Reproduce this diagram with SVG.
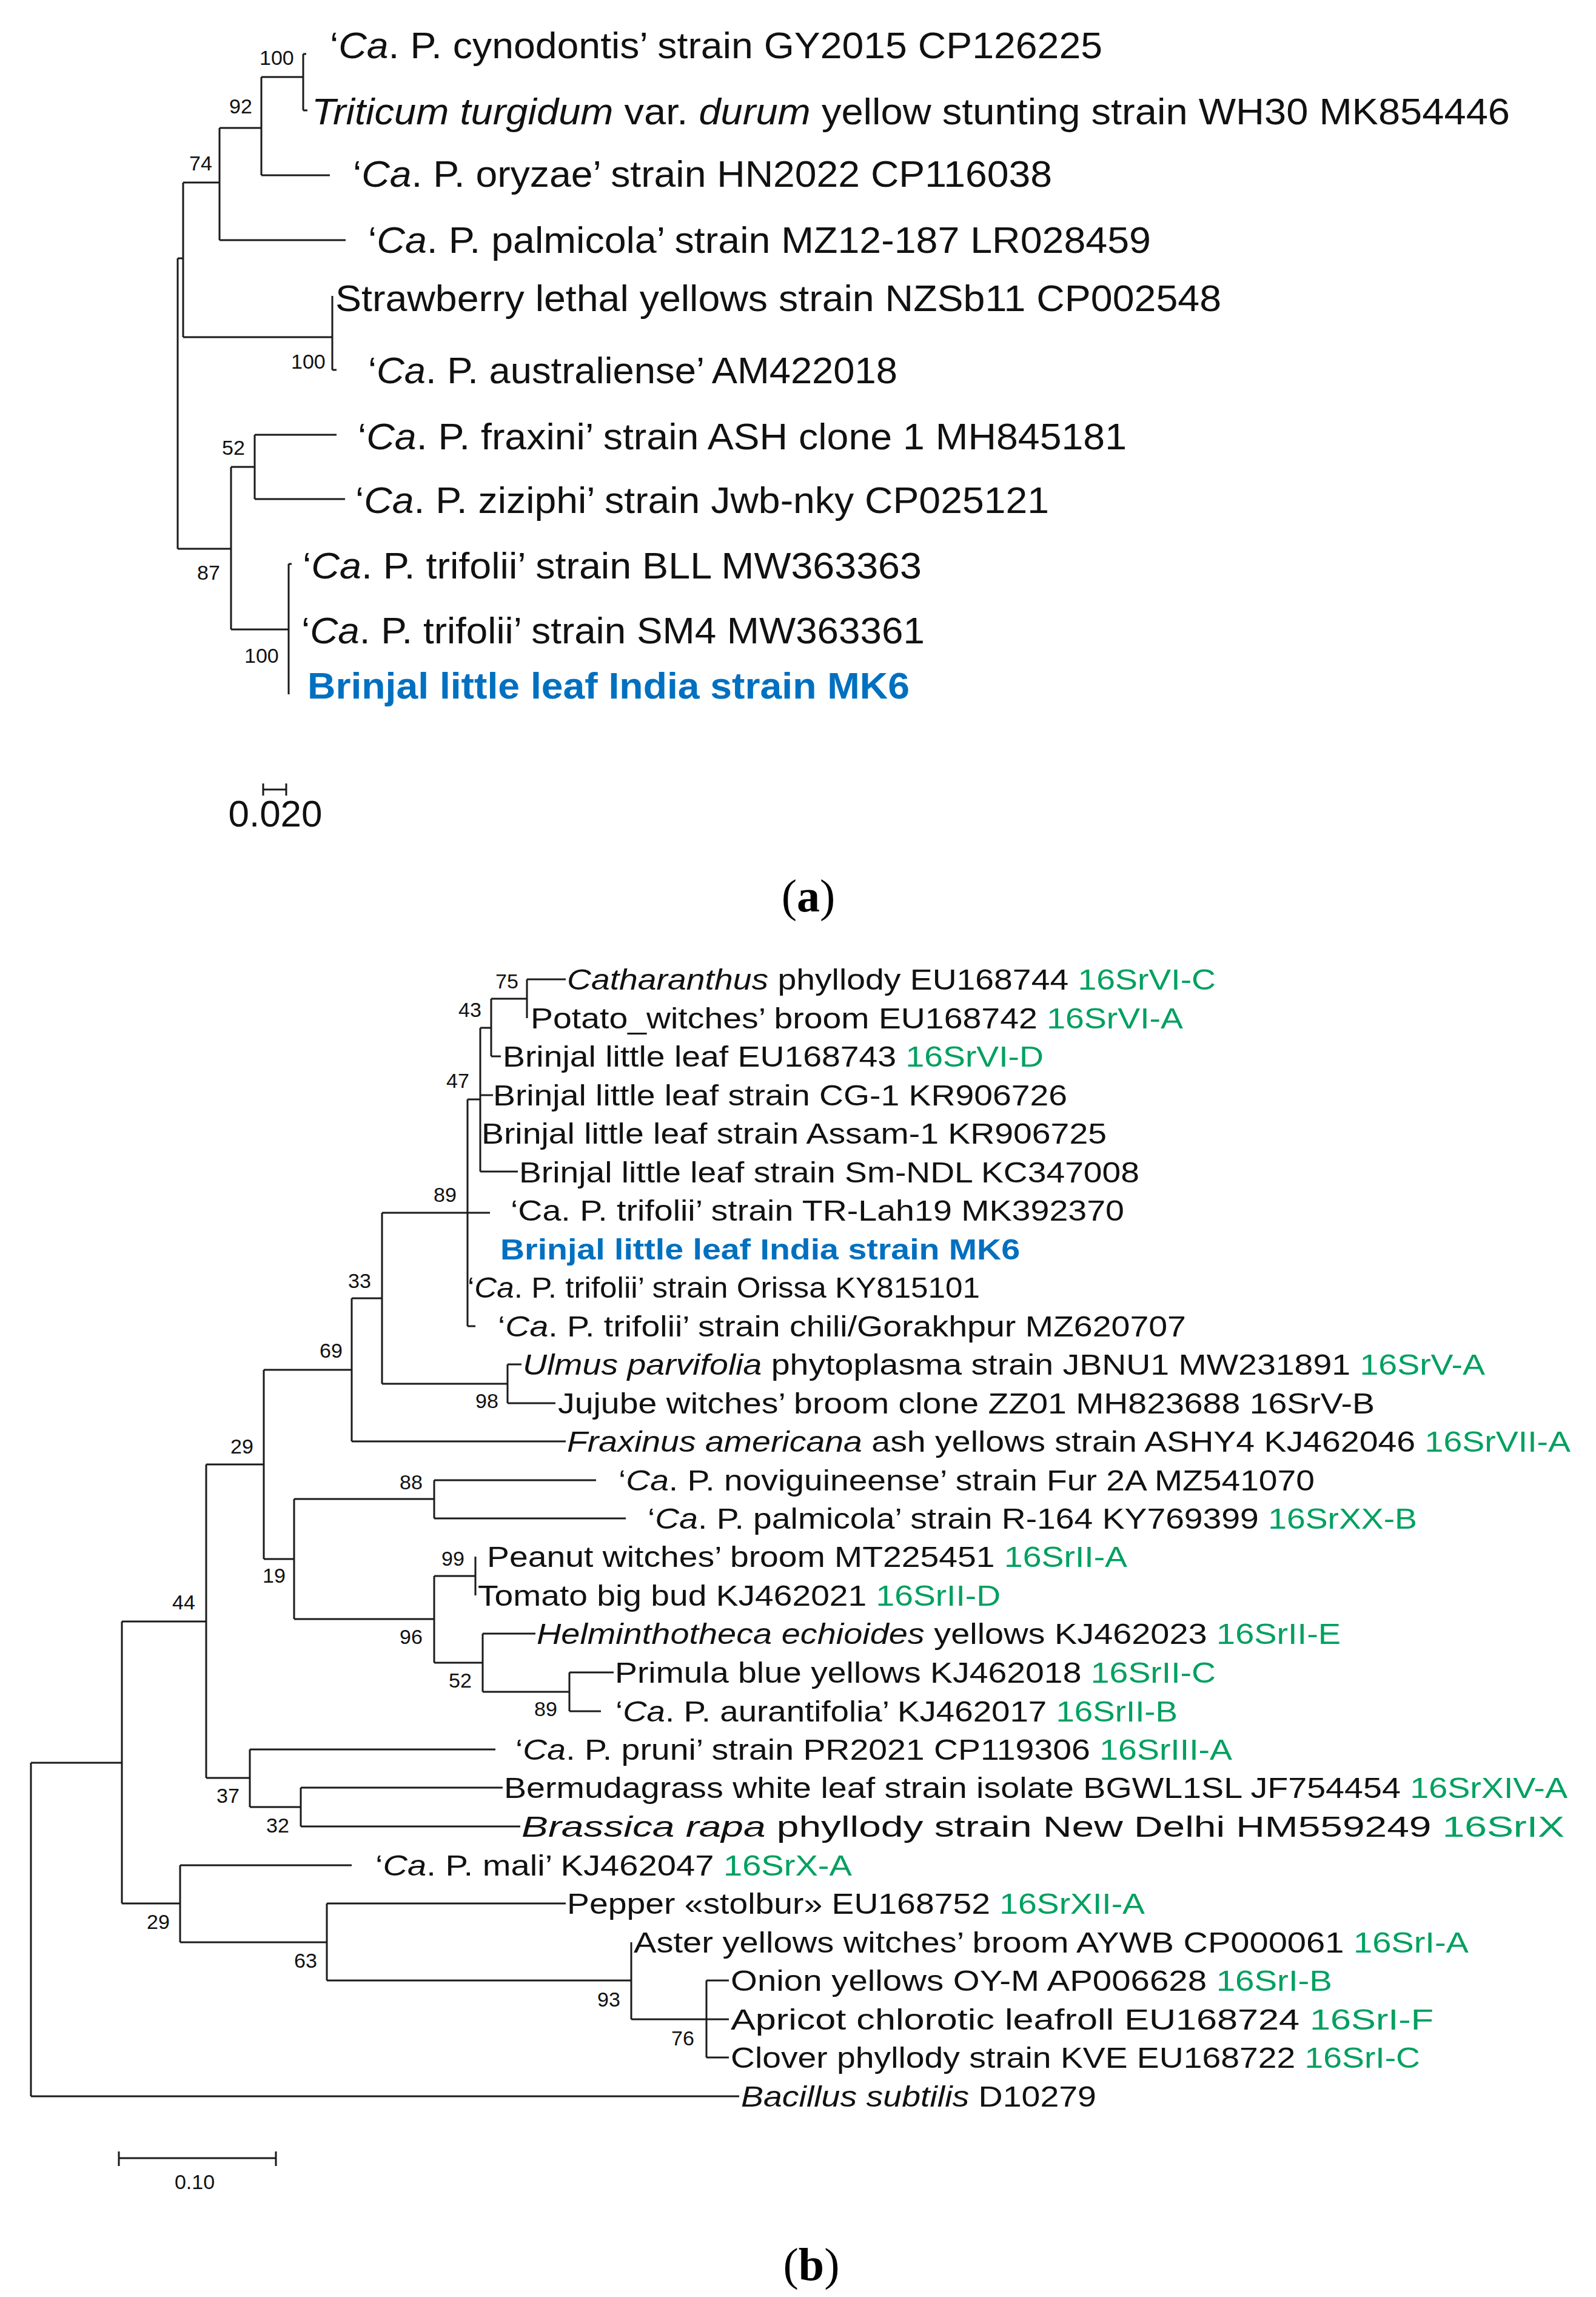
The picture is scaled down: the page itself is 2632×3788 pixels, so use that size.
<svg xmlns="http://www.w3.org/2000/svg" width="2632" height="3788" viewBox="0 0 2632 3788">
<style>
.br{fill:none;stroke:#1a1a1a;stroke-width:3}
.la{font-family:"Liberation Sans",Arial,sans-serif;font-size:62px;fill:#111}
.lb{font-family:"Liberation Sans",Arial,sans-serif;font-size:48px;fill:#111}
.bs{font-family:"Liberation Sans",Arial,sans-serif;font-size:34px;fill:#111}
.i{font-style:italic}
.g{fill:#00a060}
.mk{fill:#0070c0;font-weight:bold}
.cap{font-family:"Liberation Serif","Times New Roman",serif;font-size:76px;fill:#000}
</style>
<rect width="2632" height="3788" fill="#fff"/>
<g id="connectors">
<path class="br" d="M500 89V182M500 89H505M500 182H507M431 127V289M431 127H500M431 289H544M362 211V396M362 211H431M362 396H570M302 301V556M302 301H362M302 556H548M548 488V610M548 610H555M293 426V905M293 426H302M293 905H381M381 770V1038M381 770H420M381 1038H476M420 717V823M420 717H555M420 823H569M476 930V1145M476 930H481"/>
<path class="br" d="M434 1302H472M434 1292V1312M472 1292V1312"/>
<path class="br" d="M869 1615V1679M869 1615H933M810 1647V1742M810 1647H869M810 1742H826M792 1695V1932M792 1695H810M792 1806H813M792 1932H854M771 1813V2187M771 1813H792M771 2000H808M771 2187H784M837 2250V2314M837 2250H860M837 2314H916M630 2000V2282M630 2000H771M630 2282H837M580 2141V2377M580 2141H630M580 2377H933M716 2441V2504M716 2441H983M716 2504H1032M784 2567V2631M784 2599H716M939 2758V2822M939 2758H1012M939 2822H991M796 2694V2790M796 2694H883M796 2790H939M716 2599V2742M716 2742H796M485 2472V2670M485 2472H716M485 2670H716M435 2259V2571M435 2259H580M435 2571H485M496 2948V3012M496 2948H829M496 3012H858M412 2885V2980M412 2885H817M412 2980H496M340 2415V2932M340 2415H435M340 2932H412M1165 3266V3393M1165 3266H1202M1165 3330H1202M1165 3393H1202M1041 3203V3330M1041 3330H1165M539 3139V3266M539 3139H933M539 3266H1041M297 3076V3203M297 3076H580M297 3203H539M201 2674V3139M201 2674H340M201 3139H297M51 2907V3457M51 2907H201M51 3457H1219"/>
<path class="br" d="M196 3559H455M196 3548V3572M455 3548V3572"/>
</g>
<g id="panel-a">
<g id="a1"><text class="la" x="544" y="96" textLength="1274" lengthAdjust="spacingAndGlyphs">‘<tspan class="i">Ca</tspan>. P. cynodontis’ strain GY2015 CP126225</text></g>
<g id="a2"><text class="la" x="514" y="205" textLength="1976" lengthAdjust="spacingAndGlyphs"><tspan class="i">Triticum turgidum</tspan> var. <tspan class="i">durum</tspan> yellow stunting  strain WH30 MK854446</text></g>
<g id="a3"><text class="la" x="582" y="308" textLength="1153" lengthAdjust="spacingAndGlyphs">‘<tspan class="i">Ca</tspan>. P. oryzae’ strain HN2022 CP116038</text></g>
<g id="a4"><text class="la" x="607" y="417" textLength="1291" lengthAdjust="spacingAndGlyphs">‘<tspan class="i">Ca</tspan>. P. palmicola’ strain MZ12-187 LR028459</text></g>
<g id="a5"><text class="la" x="553" y="513" textLength="1461" lengthAdjust="spacingAndGlyphs">Strawberry lethal yellows strain NZSb11 CP002548</text></g>
<g id="a6"><text class="la" x="607" y="632" textLength="873" lengthAdjust="spacingAndGlyphs">‘<tspan class="i">Ca</tspan>. P. australiense’ AM422018</text></g>
<g id="a7"><text class="la" x="590" y="741" textLength="1268" lengthAdjust="spacingAndGlyphs">‘<tspan class="i">Ca</tspan>. P. fraxini’ strain ASH clone 1 MH845181</text></g>
<g id="a8"><text class="la" x="586" y="846" textLength="1144" lengthAdjust="spacingAndGlyphs">‘<tspan class="i">Ca</tspan>. P. ziziphi’ strain Jwb-nky CP025121</text></g>
<g id="a9"><text class="la" x="499" y="954" textLength="1021" lengthAdjust="spacingAndGlyphs">‘<tspan class="i">Ca</tspan>. P. trifolii’ strain BLL MW363363</text></g>
<g id="a10"><text class="la" x="497" y="1061" textLength="1028" lengthAdjust="spacingAndGlyphs">‘<tspan class="i">Ca</tspan>. P. trifolii’ strain SM4 MW363361</text></g>
<g id="a11"><text class="la mk" x="507" y="1152" textLength="993" lengthAdjust="spacingAndGlyphs">Brinjal little leaf India strain MK6</text></g>
<text class="bs" x="428" y="107">100</text>
<text class="bs" x="378" y="187">92</text>
<text class="bs" x="312" y="281">74</text>
<text class="bs" x="480" y="608">100</text>
<text class="bs" x="366" y="750">52</text>
<text class="bs" x="325" y="956">87</text>
<text class="bs" x="403" y="1093">100</text>
<text class="la" x="454" y="1363" text-anchor="middle" font-size="50">0.020</text>
<text class="cap" x="1333" y="1503" text-anchor="middle">(<tspan font-weight="bold">a</tspan>)</text>
</g>
<g id="panel-b">
<g id="b0"><text class="lb" x="935" y="1632" textLength="1070" lengthAdjust="spacingAndGlyphs"><tspan class="i">Catharanthus</tspan> phyllody EU168744 <tspan class="g">16SrVI-C</tspan></text></g>
<g id="b1"><text class="lb" x="875" y="1696" textLength="1076" lengthAdjust="spacingAndGlyphs">Potato_witches’ broom EU168742 <tspan class="g">16SrVI-A</tspan></text></g>
<g id="b2"><text class="lb" x="829" y="1759" textLength="892" lengthAdjust="spacingAndGlyphs">Brinjal little leaf EU168743 <tspan class="g">16SrVI-D</tspan></text></g>
<g id="b3"><text class="lb" x="813" y="1823" textLength="947" lengthAdjust="spacingAndGlyphs">Brinjal little leaf strain CG-1 KR906726</text></g>
<g id="b4"><text class="lb" x="794" y="1886" textLength="1031" lengthAdjust="spacingAndGlyphs">Brinjal little leaf strain Assam-1 KR906725</text></g>
<g id="b5"><text class="lb" x="856" y="1950" textLength="1023" lengthAdjust="spacingAndGlyphs">Brinjal little leaf strain Sm-NDL KC347008</text></g>
<g id="b6"><text class="lb" x="842" y="2013" textLength="1012" lengthAdjust="spacingAndGlyphs">‘Ca. P. trifolii’ strain TR-Lah19 MK392370</text></g>
<g id="b7"><text class="lb mk" x="825" y="2077" textLength="857" lengthAdjust="spacingAndGlyphs">Brinjal little leaf India strain MK6</text></g>
<g id="b8"><text class="lb" x="771" y="2140" textLength="845" lengthAdjust="spacingAndGlyphs">‘<tspan class="i">Ca</tspan>. P. trifolii’ strain Orissa KY815101</text></g>
<g id="b9"><text class="lb" x="821" y="2204" textLength="1135" lengthAdjust="spacingAndGlyphs">‘<tspan class="i">Ca</tspan>. P. trifolii’ strain chili/Gorakhpur MZ620707</text></g>
<g id="b10"><text class="lb" x="862" y="2267" textLength="1587" lengthAdjust="spacingAndGlyphs"><tspan class="i">Ulmus parvifolia</tspan> phytoplasma strain JBNU1 MW231891 <tspan class="g">16SrV-A</tspan></text></g>
<g id="b11"><text class="lb" x="920" y="2331" textLength="1347" lengthAdjust="spacingAndGlyphs">Jujube witches’ broom clone ZZ01 MH823688 16SrV-B</text></g>
<g id="b12"><text class="lb" x="935" y="2394" textLength="1655" lengthAdjust="spacingAndGlyphs"><tspan class="i">Fraxinus americana</tspan> ash yellows strain ASHY4 KJ462046 <tspan class="g">16SrVII-A</tspan></text></g>
<g id="b13"><text class="lb" x="1020" y="2458" textLength="1148" lengthAdjust="spacingAndGlyphs">‘<tspan class="i">Ca</tspan>. P. noviguineense’ strain Fur 2A MZ541070</text></g>
<g id="b14"><text class="lb" x="1068" y="2521" textLength="1269" lengthAdjust="spacingAndGlyphs">‘<tspan class="i">Ca</tspan>. P. palmicola’ strain R-164 KY769399 <tspan class="g">16SrXX-B</tspan></text></g>
<g id="b15"><text class="lb" x="803" y="2584" textLength="1056" lengthAdjust="spacingAndGlyphs">Peanut witches’ broom MT225451 <tspan class="g">16SrII-A</tspan></text></g>
<g id="b16"><text class="lb" x="788" y="2648" textLength="862" lengthAdjust="spacingAndGlyphs">Tomato big bud KJ462021 <tspan class="g">16SrII-D</tspan></text></g>
<g id="b17"><text class="lb" x="885" y="2711" textLength="1326" lengthAdjust="spacingAndGlyphs"><tspan class="i">Helminthotheca echioides</tspan> yellows  KJ462023 <tspan class="g">16SrII-E</tspan></text></g>
<g id="b18"><text class="lb" x="1014" y="2775" textLength="991" lengthAdjust="spacingAndGlyphs">Primula blue yellows KJ462018 <tspan class="g">16SrII-C</tspan></text></g>
<g id="b19"><text class="lb" x="1015" y="2839" textLength="927" lengthAdjust="spacingAndGlyphs">‘<tspan class="i">Ca</tspan>. P. aurantifolia’ KJ462017 <tspan class="g">16SrII-B</tspan></text></g>
<g id="b20"><text class="lb" x="850" y="2902" textLength="1182" lengthAdjust="spacingAndGlyphs">‘<tspan class="i">Ca</tspan>. P. pruni’ strain PR2021 CP119306 <tspan class="g">16SrIII-A</tspan></text></g>
<g id="b21"><text class="lb" x="831" y="2965" textLength="1754" lengthAdjust="spacingAndGlyphs">Bermudagrass white leaf strain isolate BGWL1SL JF754454 <tspan class="g">16SrXIV-A</tspan></text></g>
<g id="b22"><text class="lb" x="860" y="3029" textLength="1720" lengthAdjust="spacingAndGlyphs"><tspan class="i">Brassica rapa</tspan> phyllody strain New Delhi HM559249 <tspan class="g">16SrIX</tspan></text></g>
<g id="b23"><text class="lb" x="619" y="3093" textLength="786" lengthAdjust="spacingAndGlyphs">‘<tspan class="i">Ca</tspan>. P. mali’  KJ462047 <tspan class="g">16SrX-A</tspan></text></g>
<g id="b24"><text class="lb" x="935" y="3156" textLength="953" lengthAdjust="spacingAndGlyphs">Pepper «stolbur» EU168752 <tspan class="g">16SrXII-A</tspan></text></g>
<g id="b25"><text class="lb" x="1045" y="3220" textLength="1377" lengthAdjust="spacingAndGlyphs">Aster yellows witches’ broom  AYWB CP000061 <tspan class="g">16SrI-A</tspan></text></g>
<g id="b26"><text class="lb" x="1205" y="3283" textLength="992" lengthAdjust="spacingAndGlyphs">Onion yellows OY-M AP006628 <tspan class="g">16SrI-B</tspan></text></g>
<g id="b27"><text class="lb" x="1205" y="3347" textLength="1159" lengthAdjust="spacingAndGlyphs">Apricot chlorotic leafroll EU168724 <tspan class="g">16SrI-F</tspan></text></g>
<g id="b28"><text class="lb" x="1205" y="3410" textLength="1137" lengthAdjust="spacingAndGlyphs">Clover phyllody strain KVE EU168722 <tspan class="g">16SrI-C</tspan></text></g>
<g id="b29"><text class="lb" x="1222" y="3474" textLength="586" lengthAdjust="spacingAndGlyphs"><tspan class="i">Bacillus subtilis</tspan> D10279</text></g>
<text class="bs" x="817" y="1630">75</text>
<text class="bs" x="756" y="1677">43</text>
<text class="bs" x="736" y="1794">47</text>
<text class="bs" x="715" y="1982">89</text>
<text class="bs" x="574" y="2124">33</text>
<text class="bs" x="527" y="2239">69</text>
<text class="bs" x="784" y="2322">98</text>
<text class="bs" x="380" y="2397">29</text>
<text class="bs" x="659" y="2456">88</text>
<text class="bs" x="433" y="2610">19</text>
<text class="bs" x="284" y="2654">44</text>
<text class="bs" x="728" y="2582">99</text>
<text class="bs" x="659" y="2711">96</text>
<text class="bs" x="740" y="2783">52</text>
<text class="bs" x="881" y="2830">89</text>
<text class="bs" x="357" y="2973">37</text>
<text class="bs" x="439" y="3022">32</text>
<text class="bs" x="242" y="3181">29</text>
<text class="bs" x="485" y="3245">63</text>
<text class="bs" x="985" y="3309">93</text>
<text class="bs" x="1107" y="3373">76</text>
<text class="bs" x="321" y="3610" text-anchor="middle" font-size="40">0.10</text>
<text class="cap" x="1338" y="3760" text-anchor="middle">(<tspan font-weight="bold">b</tspan>)</text>
</g>
</svg>
